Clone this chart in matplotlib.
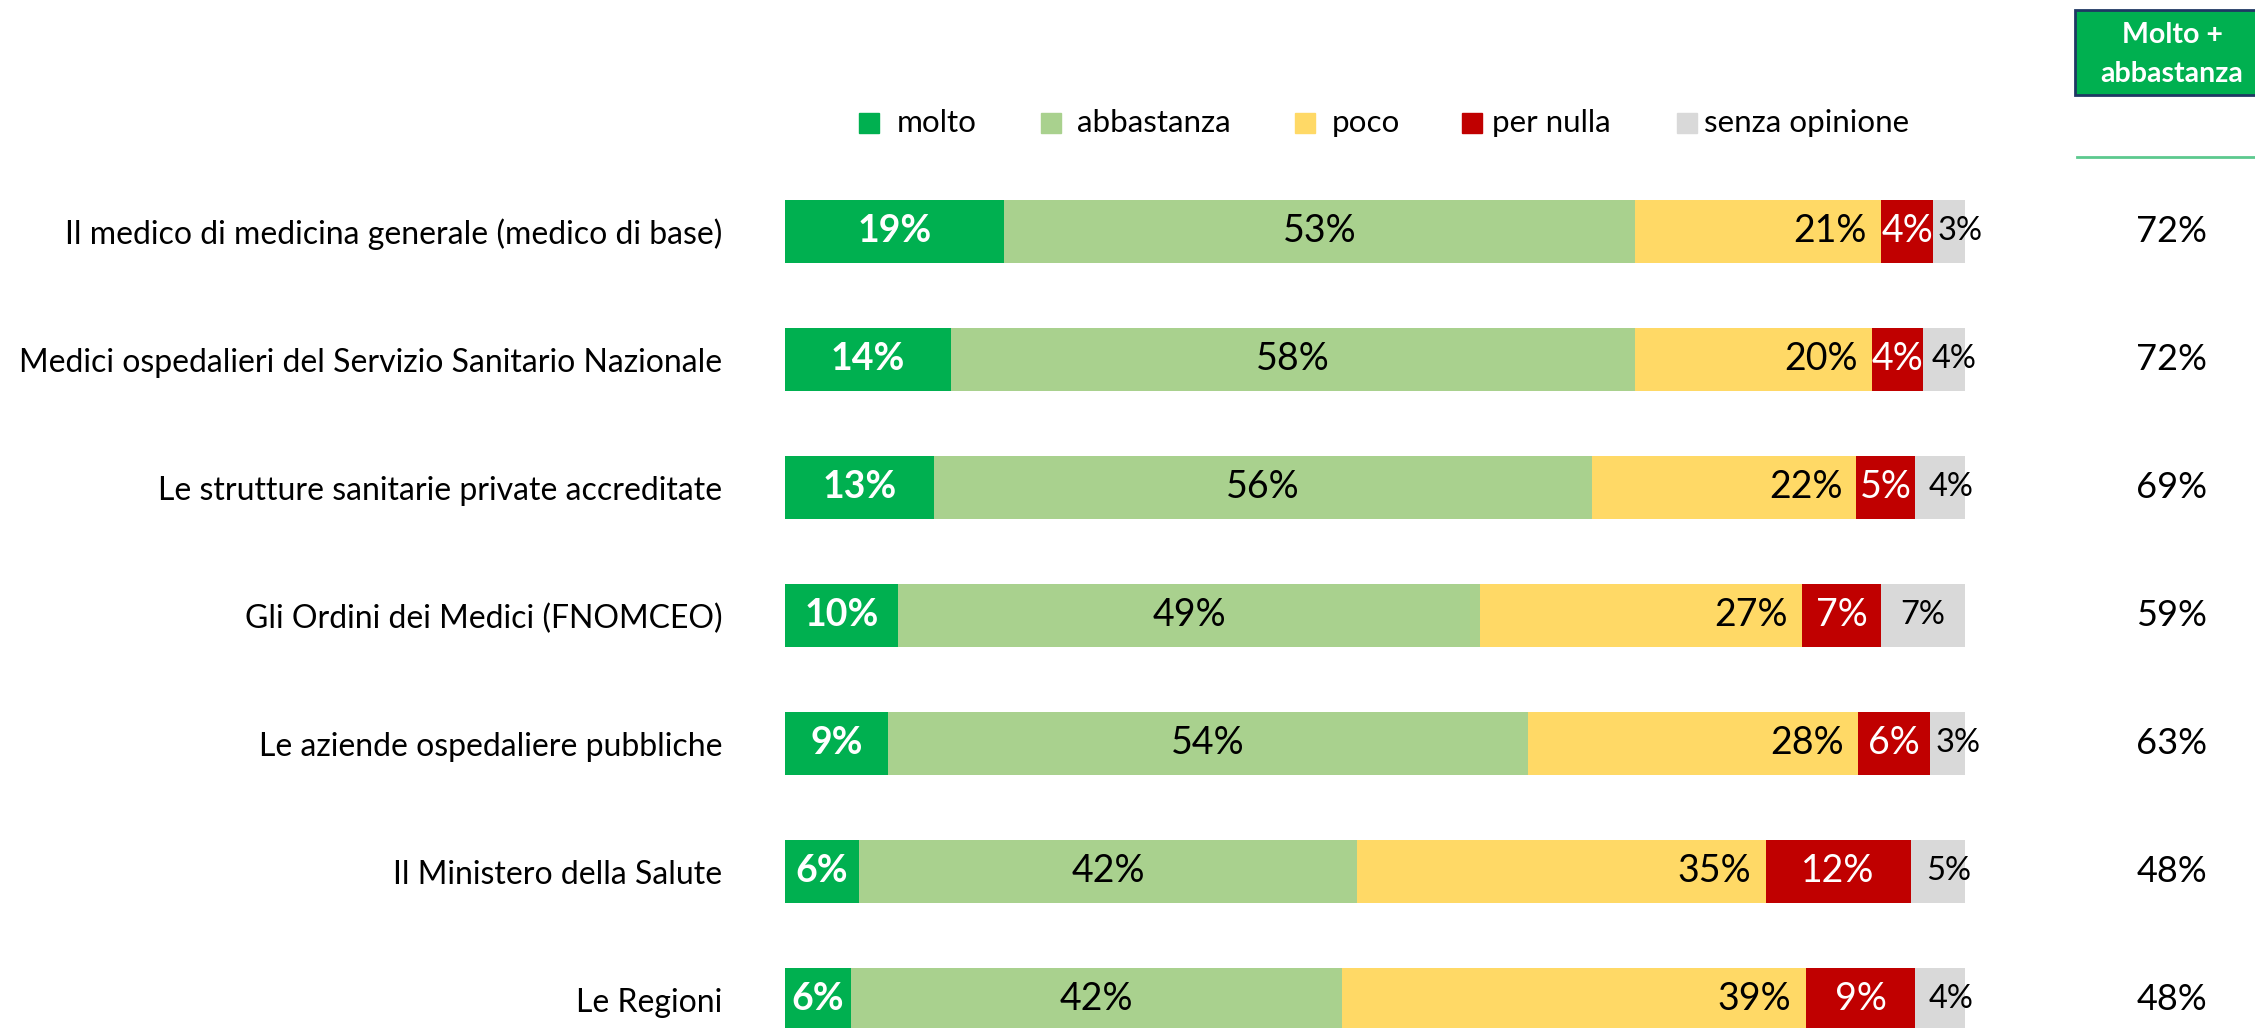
import matplotlib
matplotlib.use("Agg")
import matplotlib.pyplot as plt
import numpy as np
from matplotlib.patches import Rectangle
from matplotlib.lines import Line2D
from matplotlib.transforms import blended_transform_factory

# dati
categories = [
    "Il medico di medicina generale (medico di base)",
    "Medici ospedalieri del Servizio Sanitario Nazionale",
    "Le strutture sanitarie private accreditate",
    "Gli Ordini dei Medici (FNOMCEO)",
    "Le aziende ospedaliere pubbliche",
    "Il Ministero della Salute",
    "Le Regioni",
]
series = ["molto", "abbastanza", "poco", "per nulla", "senza opinione"]
molto = [18.6, 14.1, 12.6, 9.6, 8.7, 6.3, 5.6]
abbastanza = [53.4, 57.9, 55.8, 49.3, 54.3, 42.2, 41.6]
poco = [20.9, 20.1, 22.4, 27.3, 27.9, 34.6, 39.3]
per_nulla = [4.4, 4.3, 5.0, 6.7, 6.1, 12.3, 9.3]
senza_opinione = [2.7, 3.6, 4.2, 7.1, 3.0, 4.6, 4.2]
molto_abbastanza = [72, 72, 69, 59, 63, 48, 48]

colors = ["#00B050", "#A9D18E", "#FFD966", "#C00000", "#D9D9D9"]
label_colors = ["white", "black", "black", "white", "black"]

W, H = 2255, 1028
FONT = ["Lato", "DejaVu Sans"]

fig = plt.figure(figsize=(W / 100, H / 100), dpi=100)
fig.patch.set_facecolor("white")

def fx(x):
    return x / W

def fy(y):
    return 1 - y / H

# asse: barre da x=785 a x=1965 px, righe centrate a 231.5 + 128*i
ax = fig.add_axes([fx(785), 0, fx(1965) - fx(785), 1])
row_h = 128.0
y0 = 231.5
ax.set_ylim((H - y0) / row_h, -y0 / row_h)
ax.set_xlim(0, 100)

rows = np.arange(len(categories))
data = [molto, abbastanza, poco, per_nulla, senza_opinione]
left = np.zeros(len(categories))
for k, (vals, col) in enumerate(zip(data, colors)):
    vals = np.array(vals)
    ax.barh(rows, vals, left=left, height=0.49, color=col, edgecolor="none")
    for i, v in enumerate(vals):
        txt = f"{round(v)}%"
        if k == 0:
            ax.text(left[i] + v / 2, i, txt, ha="center", va="center",
                    color="white", fontsize=27, fontweight="bold", family=FONT)
        elif k == 2:
            ax.text(left[i] + v - 1.2, i, txt, ha="right", va="center",
                    color="black", fontsize=27, family=FONT)
        elif k == 4:
            off = 0.9 if v < 5 else 0
            ax.text(left[i] + v / 2 + off, i, txt, ha="center", va="center",
                    color="black", fontsize=23.5, family=FONT)
        else:
            ax.text(left[i] + v / 2, i, txt, ha="center", va="center",
                    color=label_colors[k], fontsize=27, family=FONT)
    left += vals

ax.set_yticks(rows, labels=categories)
ax.tick_params(axis="y", length=0, pad=45, labelsize=23)
for t in ax.get_yticklabels():
    t.set_family(FONT)
ax.set_xticks([])
for s in ax.spines.values():
    s.set_visible(False)
ax.patch.set_alpha(0)

# legenda
leg_sq = [859, 1041, 1295, 1462, 1677]
leg_tx = [897, 1077, 1332, 1492, 1704]
for name, col, sx, tx in zip(series, colors, leg_sq, leg_tx):
    fig.add_artist(Rectangle((fx(sx), fy(133)), fx(20), 20 / H,
                             transform=fig.transFigure, color=col))
    fig.text(fx(tx), fy(123), name, ha="left", va="center", fontsize=22.6,
             family=FONT)

# colonna Molto + abbastanza
fig.add_artist(Rectangle((fx(2075), fy(95)), fx(200), 85 / H,
                         transform=fig.transFigure, facecolor="#00B050",
                         edgecolor="#1F3864", linewidth=2))
fig.text(fx(2172), fy(35), "Molto +", ha="center", va="center", fontsize=20.5,
         color="white", fontweight="bold", family=FONT)
fig.text(fx(2172), fy(74), "abbastanza", ha="center", va="center", fontsize=20.5,
         color="white", fontweight="bold", family=FONT)
fig.add_artist(Line2D([fx(2077), 1], [fy(157), fy(157)], transform=fig.transFigure,
                      color="#5CC98E", linewidth=2))

tr = blended_transform_factory(fig.transFigure, ax.transData)
for i, v in enumerate(molto_abbastanza):
    ax.text(fx(2172), i, f"{v}%", transform=tr, ha="center", va="center",
            fontsize=26, family=FONT, clip_on=False)

fig.savefig("out.png", dpi=100, facecolor="white")
